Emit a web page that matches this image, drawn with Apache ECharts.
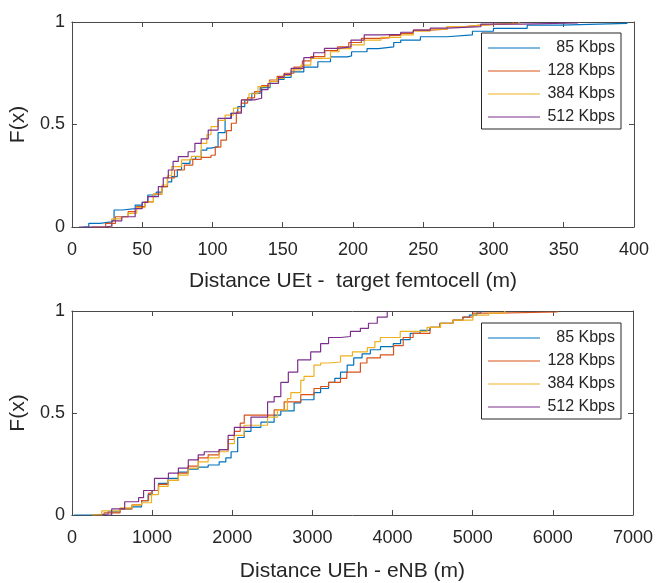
<!DOCTYPE html>
<html>
<head>
<meta charset="utf-8">
<title>CDF distances</title>
<script src="https://cdn.jsdelivr.net/npm/echarts@6/dist/echarts.min.js"></script>
<style>
  html, body { margin: 0; padding: 0; background: #fff; }
  #main { width: 656px; height: 583px; }
</style>
</head>
<body>
<div id="main"></div>
<script>
// legend names, one per data rate
var rates = ['85 Kbps', '128 Kbps', '384 Kbps', '512 Kbps'];
var colors = ['#0072BD', '#D95319', '#EDB120', '#7E2F8E'];

// top plot: distance UEt - target femtocell (m), [x, F(x)]
var top85 = [[8,0],[12,0.018],[20,0.025],[28,0.034],[30,0.083],[36,0.09],[45,0.107],[50,0.12],[54,0.156],[60,0.17],
  [64,0.197],[68,0.22],[71,0.246],[75,0.28],[78,0.31],[84,0.33],[88,0.343],[92,0.375],[96,0.385],[99,0.392],
  [104,0.46],[109,0.53],[113,0.555],[118,0.587],[123,0.62],[128,0.652],[134,0.68],[141,0.709],[147,0.72],[151,0.73],
  [156,0.757],[165,0.78],[175,0.806],[184,0.83],[196,0.835],[199,0.855],[210,0.87],[218,0.879],[229,0.9],[234,0.912],
  [248,0.928],[267,0.937],[285,0.955],[300,0.969],[324,0.985],[348,0.993],[395,1.0]];
var top128 = [[14,0],[24,0.018],[31,0.05],[40,0.075],[46,0.1],[52,0.123],[58,0.16],[64,0.197],[68,0.24],[73,0.278],
  [80,0.302],[86,0.33],[92,0.34],[99,0.35],[102,0.39],[106,0.424],[110,0.47],[113.5,0.506],[117,0.56],[120.6,0.604],
  [125,0.63],[130,0.66],[135,0.69],[140.6,0.717],[146,0.735],[151,0.75],[158,0.78],[164,0.81],[170,0.831],[180,0.86],
  [189,0.879],[197,0.9],[206,0.92],[218,0.923],[226,0.935],[234,0.945],[243,0.96],[255,0.965],[267,0.977],[280,0.985],
  [291,0.993],[314,1.0]];
var top384 = [[26,0],[28.4,0.04],[35,0.05],[40,0.066],[46,0.095],[52,0.123],[58,0.16],[64,0.205],[68,0.25],[71,0.295],
  [78,0.327],[85,0.345],[92,0.408],[96,0.45],[99,0.49],[104,0.52],[109,0.546],[115,0.58],[120.6,0.62],[126,0.65],
  [132.4,0.685],[140.6,0.709],[146,0.725],[151,0.74],[156,0.766],[163,0.79],[170,0.823],[184,0.855],[190,0.87],[198.6,0.888],
  [208,0.912],[220,0.925],[234,0.937],[243,0.955],[255,0.965],[267,0.977],[280,0.985],[291,0.993],[318,1.0]];
var top512 = [[5,0],[23.6,0.005],[28.4,0.03],[35.5,0.05],[45,0.09],[50,0.12],[54,0.148],[61.5,0.197],[65,0.24],[68.6,0.278],
  [72,0.32],[75.7,0.343],[82.7,0.367],[87.5,0.408],[92,0.43],[97,0.473],[104,0.53],[113.5,0.555],[120.6,0.62],[130,0.628],
  [135,0.67],[139.5,0.7],[147,0.73],[151,0.745],[156,0.774],[165,0.826],[172,0.85],[179.7,0.871],[189,0.879],[198.6,0.912],
  [208,0.937],[220,0.94],[234,0.95],[243,0.96],[255,0.97],[267,0.977],[291,0.99],[320,0.995],[360,1.0]];

// bottom plot: distance UEh - eNB (m), [x, F(x)]
var bot85 = [[25,0],[300,0.005],[450,0.015],[600,0.03],[745,0.04],[869,0.07],[950,0.1],[1000,0.12],[1080,0.155],[1200,0.18],
  [1328,0.21],[1450,0.225],[1576,0.235],[1700,0.245],[1837,0.26],[1920,0.28],[1986,0.31],[2068,0.38],[2150,0.41],[2234,0.43],
  [2358,0.455],[2523,0.49],[2606,0.51],[2772,0.55],[2855,0.565],[3020,0.6],[3103,0.62],[3202,0.65],[3280,0.67],[3351,0.7],
  [3434,0.735],[3516,0.77],[3620,0.79],[3723,0.81],[3850,0.825],[4009,0.84],[4100,0.86],[4220,0.89],[4344,0.905],[4468,0.92],
  [4592,0.94],[4754,0.955],[4878,0.97],[4960,0.98],[5051,0.99],[5100,1.0]];
var bot128 = [[250,0],[400,0.01],[600,0.03],[750,0.05],[869,0.07],[956,0.107],[1000,0.12],[1080,0.15],[1200,0.17],[1328,0.205],
  [1450,0.24],[1576,0.28],[1700,0.295],[1837,0.32],[1950,0.37],[2027,0.41],[2100,0.45],[2150,0.49],[2441,0.49],[2523,0.515],
  [2648,0.555],[2855,0.59],[3020,0.62],[3103,0.63],[3202,0.65],[3351,0.67],[3430,0.7],[3599,0.745],[3681,0.77],[3848,0.785],
  [4013,0.83],[4133,0.87],[4257,0.89],[4468,0.92],[4592,0.94],[4754,0.955],[4878,0.97],[5002,0.99],[5300,0.995],[6057,1.0]];
var bot384 = [[248,0],[372,0.02],[600,0.035],[750,0.05],[869,0.06],[993,0.1],[1080,0.14],[1200,0.17],[1328,0.195],[1450,0.23],
  [1576,0.26],[1700,0.28],[1837,0.31],[1950,0.35],[2027,0.39],[2148,0.44],[2358,0.44],[2441,0.48],[2565,0.515],[2689,0.57],
  [2731,0.6],[2855,0.66],[2896,0.68],[3020,0.735],[3103,0.745],[3202,0.75],[3351,0.78],[3500,0.8],[3686,0.82],[3780,0.85],
  [3848,0.87],[4096,0.9],[4431,0.92],[4600,0.94],[4754,0.955],[5002,0.98],[5200,0.99],[5400,1.0]];
var bot512 = [[372,0],[496,0.03],[658,0.065],[832,0.085],[894,0.12],[1030,0.18],[1204,0.205],[1328,0.23],[1452,0.27],[1576,0.295],
  [1651,0.31],[1837,0.32],[1949,0.39],[2027,0.43],[2234,0.48],[2441,0.555],[2523,0.58],[2606,0.65],[2700,0.7],[2817,0.76],
  [2979,0.8],[3103,0.84],[3202,0.87],[3351,0.875],[3475,0.9],[3599,0.915],[3700,0.94],[3810,0.97],[3934,1.0]];

var topData = [top85, top128, top384, top512];
var botData = [bot85, bot128, bot384, bot512];

var font = 'Liberation Sans, Arial, Helvetica, sans-serif';
var textColor = '#262626';
var lineColor = '#4a4a4a';

function xAxisFor(grid, max, interval, name, gap, pos) {
    var main = pos === 'bottom';
    return {
        type: 'value', gridIndex: grid, position: pos, min: 0, max: max, interval: interval,
        name: main ? name : '', nameLocation: 'middle', nameGap: gap,
        nameTextStyle: { fontFamily: font, fontSize: 21, color: textColor },
        axisLine: { show: true, onZero: false, lineStyle: { color: lineColor, width: 1 } },
        axisTick: { show: true, inside: true, length: 5, lineStyle: { color: lineColor } },
        axisLabel: {
            show: main, margin: 14, fontFamily: font, fontSize: 18, color: textColor,
            formatter: function (v) { return String(v); }
        },
        splitLine: { show: false }
    };
}

function yAxisFor(grid, pos) {
    var main = pos === 'left';
    return {
        type: 'value', gridIndex: grid, position: pos, min: 0, max: 1, interval: 0.5,
        name: main ? 'F(x)' : '', nameLocation: 'middle', nameGap: 40,
        nameTextStyle: { fontFamily: font, fontSize: 21, color: textColor },
        axisLine: { show: true, onZero: false, lineStyle: { color: lineColor, width: 1 } },
        axisTick: { show: true, inside: true, length: 5, lineStyle: { color: lineColor } },
        axisLabel: { show: main, margin: 7, fontFamily: font, fontSize: 18, color: textColor },
        splitLine: { show: false }
    };
}

function legendAt(top) {
    return {
        data: rates, orient: 'vertical', right: 35, top: top,
        backgroundColor: '#fff', borderColor: '#262626', borderWidth: 1, borderRadius: 0,
        padding: [7, 6, 4, 6], itemGap: 7, itemWidth: 52, itemHeight: 14,
        itemStyle: { opacity: 0 },
        lineStyle: { width: 1 },
        formatter: function (name) { return '{t|' + name + '}'; },
        textStyle: {
            rich: { t: { width: 70, align: 'right', fontFamily: font, fontSize: 16, color: textColor, lineHeight: 18 } }
        }
    };
}

var series = [];
for (var i = 0; i < rates.length; i++) {
    series.push({
        name: rates[i], type: 'line', step: 'end', symbol: 'none',
        xAxisIndex: 0, yAxisIndex: 0, data: topData[i],
        lineStyle: { color: colors[i], width: 1.2 }, itemStyle: { color: colors[i] }
    });
    series.push({
        name: rates[i], type: 'line', step: 'end', symbol: 'none',
        xAxisIndex: 2, yAxisIndex: 2, data: botData[i],
        lineStyle: { color: colors[i], width: 1.2 }, itemStyle: { color: colors[i] }
    });
}

var option = {
    animation: false,
    backgroundColor: '#fff',
    grid: [
        { left: 70, top: 22, width: 564, height: 205 },
        { left: 70, top: 311, width: 564, height: 204 }
    ],
    xAxis: [
        xAxisFor(0, 400, 50, 'Distance UEt -  target femtocell (m)', 44, 'bottom'),
        xAxisFor(0, 400, 50, '', 0, 'top'),
        xAxisFor(1, 7000, 1000, 'Distance UEh - eNB (m)', 46, 'bottom'),
        xAxisFor(1, 7000, 1000, '', 0, 'top')
    ],
    yAxis: [
        yAxisFor(0, 'left'),
        yAxisFor(0, 'right'),
        yAxisFor(1, 'left'),
        yAxisFor(1, 'right')
    ],
    legend: [legendAt(33), legendAt(323)],
    series: series
};

var myChart = echarts.init(document.getElementById('main'));
myChart.setOption(option);
</script>
</body>
</html>
